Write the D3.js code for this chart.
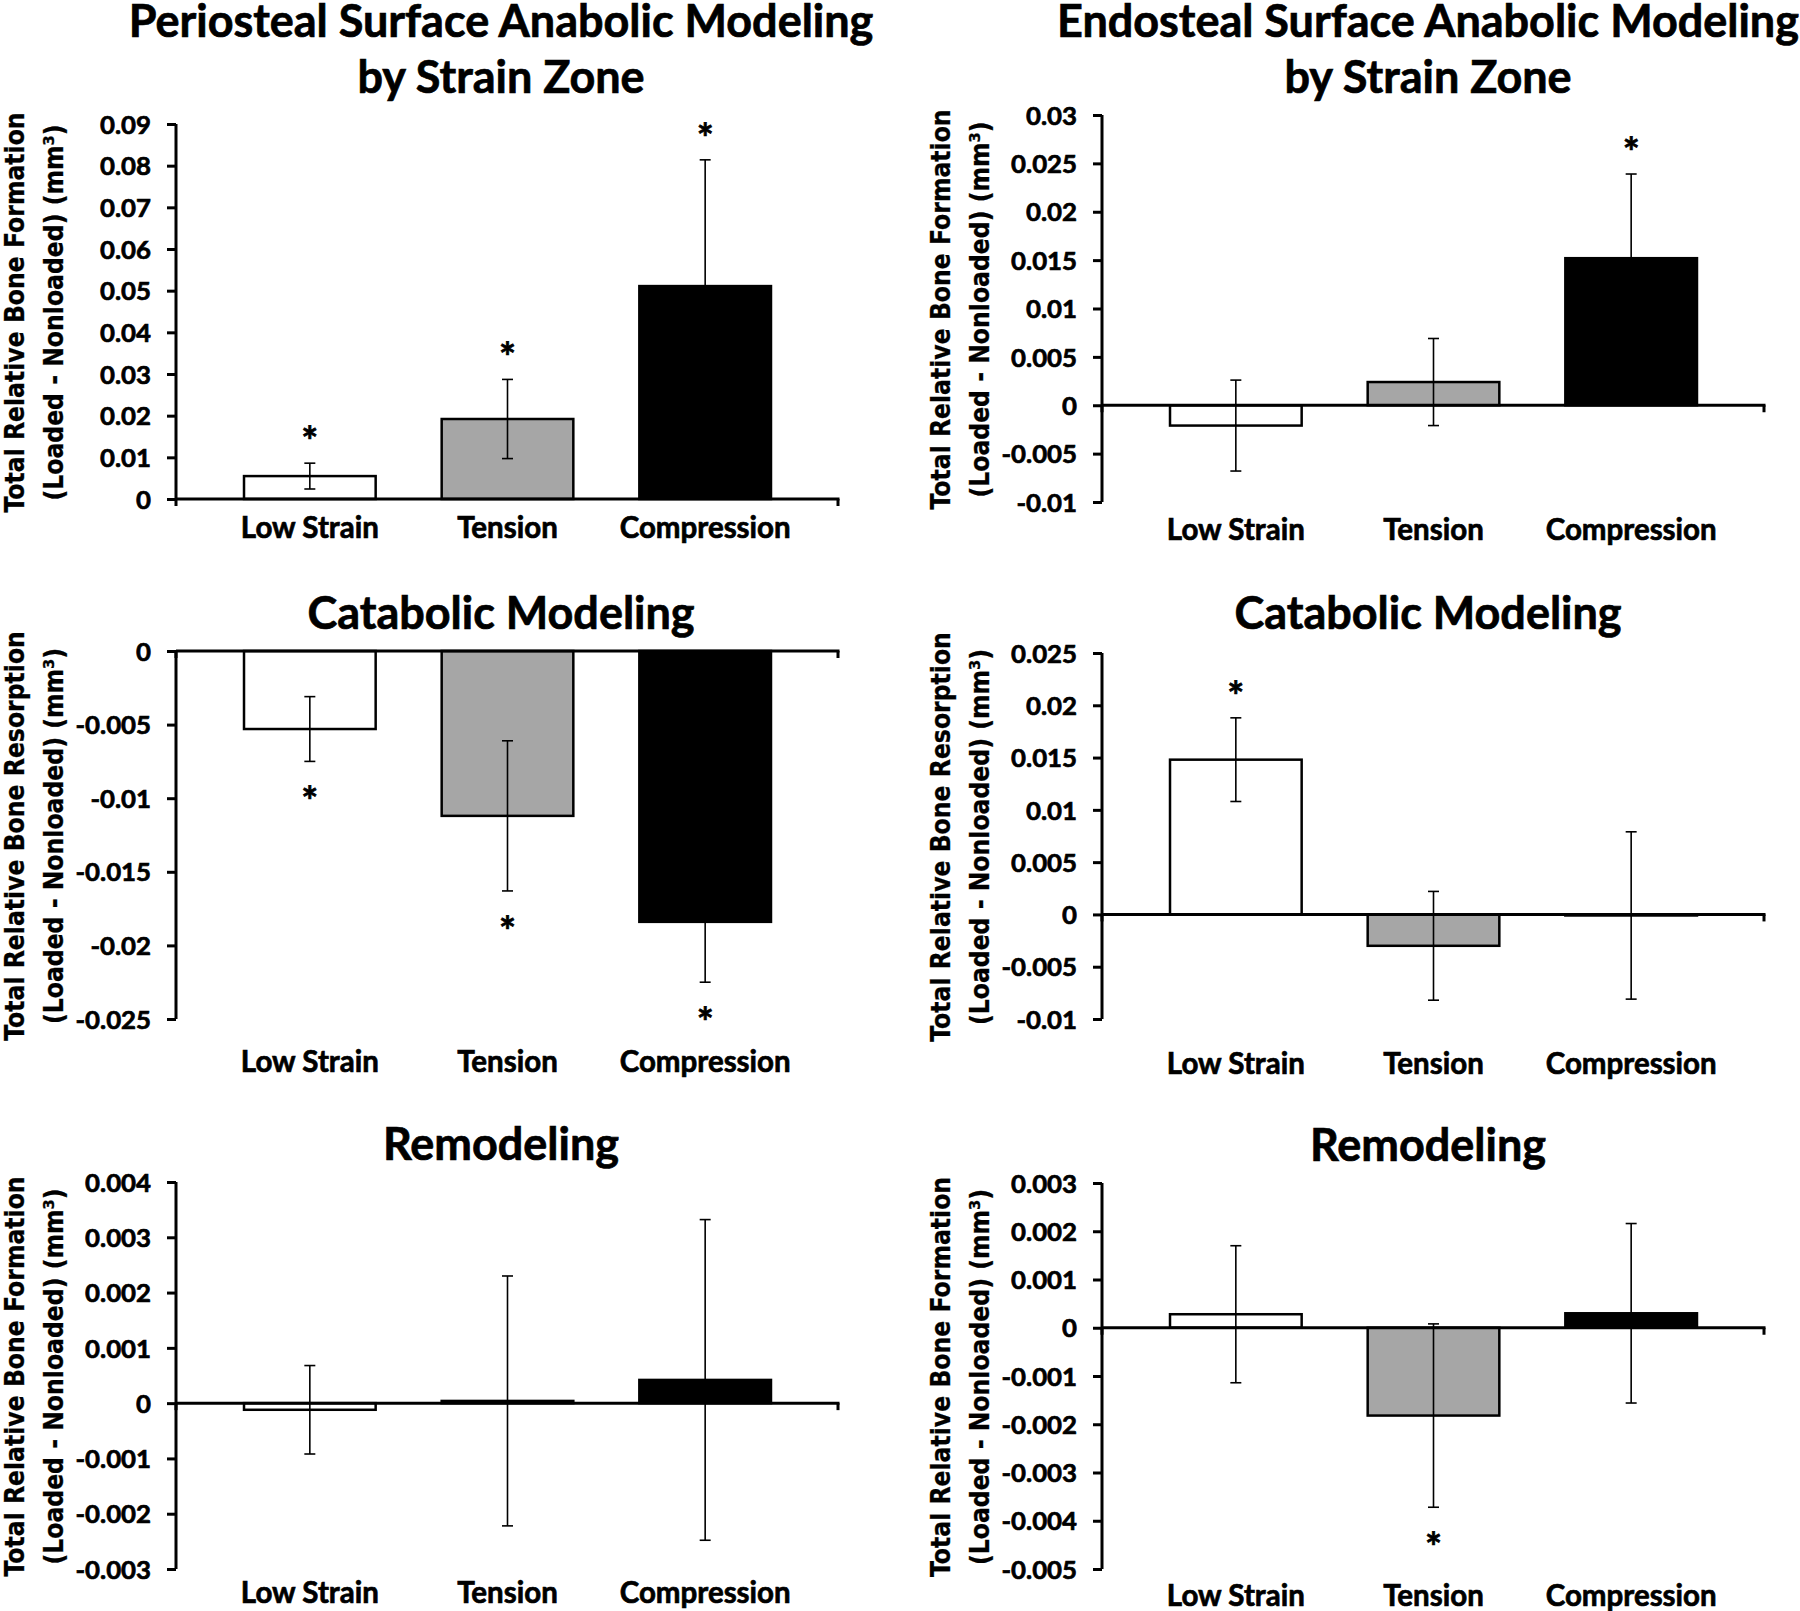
<!DOCTYPE html>
<html><head><meta charset="utf-8">
<script src="https://cdn.jsdelivr.net/npm/d3@7"></script>
<style>body{margin:0;background:#fff}</style>
</head><body><svg id="c" width="1800" height="1611"></svg>
<script>
// ---------------- DATA ----------------
const categories = ["Low Strain", "Tension", "Compression"];
const yTitleFormation = ["Total Relative Bone Formation", "(Loaded - Nonloaded) (mm³)"];
const yTitleResorption = ["Total Relative Bone Resorption", "(Loaded - Nonloaded) (mm³)"];

const periAnabolicTitle = ["Periosteal Surface Anabolic Modeling", "by Strain Zone"];
const periAnabolicTicks = [0, 0.01, 0.02, 0.03, 0.04, 0.05, 0.06, 0.07, 0.08, 0.09];
const periAnabolicMean = [0.0055, 0.0192, 0.0511];
const periAnabolicErr = [0.0031, 0.0095, 0.0303];
const periAnabolicSig = [true, true, true];

const endoAnabolicTitle = ["Endosteal Surface Anabolic Modeling", "by Strain Zone"];
const endoAnabolicTicks = [-0.01, -0.005, 0, 0.005, 0.01, 0.015, 0.02, 0.025, 0.03];
const endoAnabolicMean = [-0.0021, 0.0024, 0.0152];
const endoAnabolicErr = [0.0047, 0.0045, 0.0087];
const endoAnabolicSig = [false, false, true];

const periCatabolicTitle = ["Catabolic Modeling"];
const periCatabolicTicks = [-0.025, -0.02, -0.015, -0.01, -0.005, 0];
const periCatabolicMean = [-0.0053, -0.0112, -0.0184];
const periCatabolicErr = [0.0022, 0.0051, 0.0041];
const periCatabolicSig = [true, true, true];

const endoCatabolicTitle = ["Catabolic Modeling"];
const endoCatabolicTicks = [-0.01, -0.005, 0, 0.005, 0.01, 0.015, 0.02, 0.025];
const endoCatabolicMean = [0.0148, -0.0030, -0.0001];
const endoCatabolicErr = [0.0040, 0.0052, 0.0080];
const endoCatabolicSig = [true, false, false];

const periRemodelTitle = ["Remodeling"];
const periRemodelTicks = [-0.003, -0.002, -0.001, 0, 0.001, 0.002, 0.003, 0.004];
const periRemodelMean = [-0.00012, 0.00004, 0.00042];
const periRemodelErr = [0.0008, 0.00226, 0.0029];
const periRemodelSig = [false, false, false];

const endoRemodelTitle = ["Remodeling"];
const endoRemodelTicks = [-0.005, -0.004, -0.003, -0.002, -0.001, 0, 0.001, 0.002, 0.003];
const endoRemodelMean = [0.00028, -0.00182, 0.0003];
const endoRemodelErr = [0.00142, 0.0019, 0.00186];
const endoRemodelSig = [false, true, false];

// ---------------- STYLE / LAYOUT ----------------
const fills = ["#ffffff", "#a6a6a6", "#000000"];
const columns = [
  {axisX: 176, right: 838, titleX: 501},
  {axisX: 1102, right: 1764, titleX: 1428}
];
const panels = [
  {col: 0, yr: [499, 124], titleY: [37, 93], labelY: 538, title: periAnabolicTitle, ticks: periAnabolicTicks, mean: periAnabolicMean, err: periAnabolicErr, sig: periAnabolicSig, ytitle: yTitleFormation},
  {col: 1, yr: [502, 115], titleY: [37, 93], labelY: 540, title: endoAnabolicTitle, ticks: endoAnabolicTicks, mean: endoAnabolicMean, err: endoAnabolicErr, sig: endoAnabolicSig, ytitle: yTitleFormation},
  {col: 0, yr: [1019, 651], titleY: [629], labelY: 1072, title: periCatabolicTitle, ticks: periCatabolicTicks, mean: periCatabolicMean, err: periCatabolicErr, sig: periCatabolicSig, ytitle: yTitleResorption},
  {col: 1, yr: [1019, 653], titleY: [629], labelY: 1074, title: endoCatabolicTitle, ticks: endoCatabolicTicks, mean: endoCatabolicMean, err: endoCatabolicErr, sig: endoCatabolicSig, ytitle: yTitleResorption},
  {col: 0, yr: [1569, 1182], titleY: [1160], labelY: 1603, title: periRemodelTitle, ticks: periRemodelTicks, mean: periRemodelMean, err: periRemodelErr, sig: periRemodelSig, ytitle: yTitleFormation},
  {col: 1, yr: [1569, 1183], titleY: [1161], labelY: 1606, title: endoRemodelTitle, ticks: endoRemodelTicks, mean: endoRemodelMean, err: endoRemodelErr, sig: endoRemodelSig, ytitle: yTitleFormation}
];

const mainFont = "Lato, 'Open Sans', sans-serif";
const yTitleFont = "'DejaVu Sans', Verdana, sans-serif";
const titleSize = 45, labelSize = 30, tickSize = 25.5, starSize = 40, yTitleSize = 26;
const heavy = 0.7; // extra stroke to mimic the heavier reference glyphs

const svg = d3.select("#c");
svg.append("rect").attr("width", 1800).attr("height", 1611).attr("fill", "#fff");

function measure(str, family, size) {
  const t = svg.append("text").attr("font-family", family).attr("font-weight", "bold")
    .attr("font-size", size).text(str);
  const w = t.node().getComputedTextLength();
  t.remove();
  return w;
}
// horizontal fit factors so widths match the reference (Calibri Bold look)
const titleF = 745 / measure("Periosteal Surface Anabolic Modeling", mainFont, titleSize);
const labelF = 171 / measure("Compression", mainFont, labelSize);
const tickF = 51 / measure("0.09", mainFont, tickSize);
const yTitleF = 410 / measure("Total Relative Bone Resorption", yTitleFont, yTitleSize);

const fmt = d3.formatLocale({decimal: ".", thousands: ",", grouping: [3], currency: ["$", ""], minus: "-"}).format("~g");

function hText(g, str, x, y, size, f, anchor) {
  return g.append("text")
    .attr("transform", `translate(${x},${y}) scale(${f},1)`)
    .attr("text-anchor", anchor || "middle")
    .attr("font-family", mainFont).attr("font-weight", "bold")
    .attr("font-size", size).attr("fill", "#000")
    .attr("stroke", "#000").attr("stroke-width", heavy)
    .text(str);
}

panels.forEach(p => {
  const c = columns[p.col];
  const g = svg.append("g");
  const y = d3.scaleLinear().domain(d3.extent(p.ticks)).range(p.yr);
  const x = d3.scaleBand().domain(categories).range([c.axisX + 35, c.right - 34])
    .paddingInner(0.334).paddingOuter(0.167);
  const y0 = y(0);

  // title
  p.title.forEach((t, i) => hText(g, t, c.titleX, p.titleY[i], titleSize, titleF));

  // bars
  g.selectAll("rect.bar").data(p.mean).join("rect").attr("class", "bar")
    .attr("x", (d, i) => x(categories[i]))
    .attr("width", x.bandwidth())
    .attr("y", d => y(Math.max(0, d)))
    .attr("height", d => Math.abs(y(d) - y0))
    .attr("fill", (d, i) => fills[i])
    .attr("stroke", "#000").attr("stroke-width", 2.5);

  // error bars
  const cap = 5.5;
  p.mean.forEach((m, i) => {
    const cx = x(categories[i]) + x.bandwidth() / 2;
    const hi = y(m + p.err[i]), lo = y(m - p.err[i]);
    const eg = g.append("g").attr("stroke", "#000").attr("stroke-width", 1.6);
    eg.append("line").attr("x1", cx).attr("x2", cx).attr("y1", hi).attr("y2", lo);
    eg.append("line").attr("x1", cx - cap).attr("x2", cx + cap).attr("y1", hi).attr("y2", hi);
    eg.append("line").attr("x1", cx - cap).attr("x2", cx + cap).attr("y1", lo).attr("y2", lo);
    if (p.sig[i]) {
      const cy = m >= 0 ? hi - 27 : lo + 35;
      hText(g, "*", cx, cy + 0.5 * starSize, starSize, 1);
    }
  });

  // x axis line at zero with end ticks
  const xa = g.append("g").attr("stroke", "#000").attr("stroke-width", 3);
  xa.append("line").attr("x1", c.axisX).attr("x2", c.right + 1.5).attr("y1", y0).attr("y2", y0);
  xa.append("line").attr("x1", c.right).attr("x2", c.right).attr("y1", y0).attr("y2", y0 + 7);
  xa.append("line").attr("x1", c.axisX).attr("x2", c.axisX).attr("y1", y0).attr("y2", y0 + 7);

  // y axis
  const ya = g.append("g").attr("transform", `translate(${c.axisX},0)`)
    .call(d3.axisLeft(y).tickValues(p.ticks).tickFormat(fmt).tickSize(9).tickPadding(16));
  ya.select(".domain").attr("stroke", "#000").attr("stroke-width", 3)
    .attr("d", `M0,${p.yr[0]}V${p.yr[1]}`);
  ya.selectAll(".tick line").attr("stroke", "#000").attr("stroke-width", 3);
  ya.selectAll(".tick text").each(function () {
    const t = d3.select(this);
    const tx = +t.attr("x");
    t.attr("x", 0).attr("dy", "0.36em")
      .attr("transform", `translate(${tx},0) scale(${tickF},1)`)
      .attr("font-family", mainFont).attr("font-weight", "bold")
      .attr("font-size", tickSize).attr("fill", "#000")
      .attr("stroke", "#000").attr("stroke-width", heavy);
  });

  // category labels
  categories.forEach(cat => hText(g, cat, x(cat) + x.bandwidth() / 2, p.labelY, labelSize, labelF));

  // y axis title
  const yc = (p.yr[0] + p.yr[1]) / 2 + 1;
  const off = [-152, -113];
  p.ytitle.forEach((t, i) => {
    g.append("text")
      .attr("transform", `translate(${c.axisX + off[i]},${yc}) rotate(-90) scale(${yTitleF},1)`)
      .attr("text-anchor", "middle")
      .attr("font-family", yTitleFont).attr("font-weight", "bold")
      .attr("font-size", yTitleSize).attr("fill", "#000")
      .attr("stroke", "#000").attr("stroke-width", 0.3)
      .text(t);
  });
});
</script>
</body></html>
